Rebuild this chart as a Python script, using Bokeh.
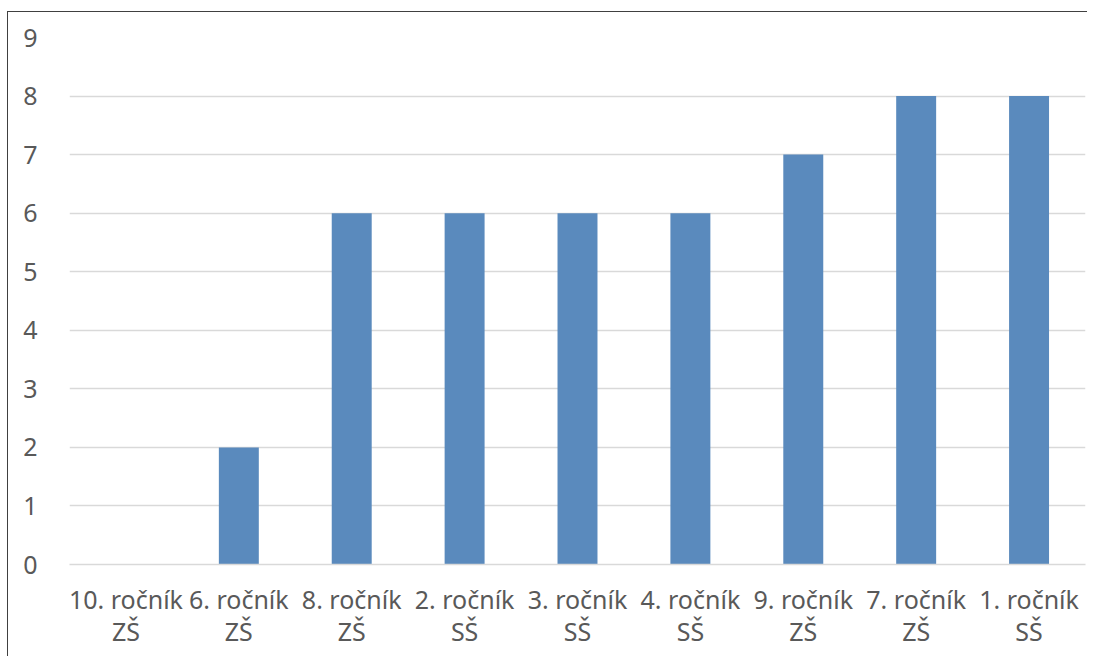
from bokeh.plotting import figure
from bokeh.models import FactorRange, ColumnDataSource, FixedTicker
from bokeh.embed import file_html
from bokeh.resources import INLINE

categories = ["10. ročník\nZŠ", "6. ročník\nZŠ", "8. ročník\nZŠ", "2. ročník\nSŠ",
              "3. ročník\nSŠ", "4. ročník\nSŠ", "9. ročník\nZŠ", "7. ročník\nZŠ", "1. ročník\nSŠ"]
values = [0, 2, 6, 6, 6, 6, 7, 8, 8]
y_ticks = [0, 1, 2, 3, 4, 5, 6, 7, 8, 9]

src = ColumnDataSource(dict(cat=categories, val=values))

p = figure(x_range=FactorRange(*categories, range_padding=0), y_range=(0, 9),
           width=1080, height=645, output_backend="svg", toolbar_location=None,
           min_border_left=61, min_border_right=3, min_border_top=25, min_border_bottom=93)
p.margin = (11, 0, 0, 7)
p.styles = {"border-left": "1px solid #404040", "border-top": "1px solid #404040",
            "border-right": "0px none", "border-bottom": "0px none"}
p.vbar(x="cat", top="val", width=0.354, source=src, color="#5A8ABD", line_color=None)

p.outline_line_color = None
p.xgrid.grid_line_color = None
p.ygrid.grid_line_color = "#D9D9D9"
p.ygrid.grid_line_width = 1.5
p.yaxis.ticker = FixedTicker(ticks=y_ticks)
p.yaxis.axis_line_color = None
p.yaxis.major_tick_line_color = None
p.yaxis.minor_tick_line_color = None
p.yaxis.major_label_standoff = 26
p.xaxis.axis_line_color = "#D9D9D9"
p.xaxis.axis_line_width = 1.5
p.xaxis.major_tick_line_color = None
p.xaxis.minor_tick_line_color = None
p.xaxis.major_label_standoff = 11
for ax in (p.xaxis, p.yaxis):
    ax.major_label_text_font = "Noto Sans"
    ax.major_label_text_font_size = "25px"
    ax.major_label_text_color = "#595959"
p.xaxis.major_label_text_line_height = 0.95

open("out.html", "w").write(file_html(p, INLINE))
